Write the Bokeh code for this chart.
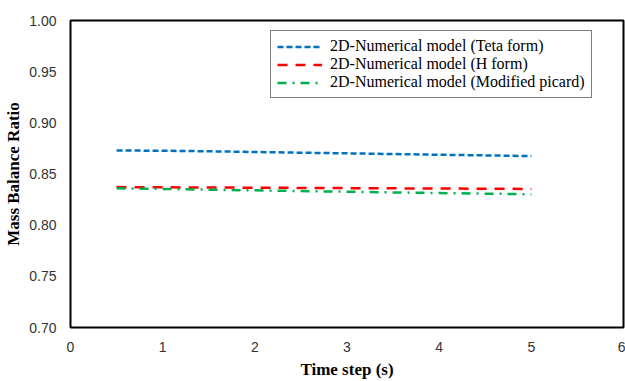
from bokeh.plotting import figure
from bokeh.models import Range1d, Legend, LegendItem, FixedTicker, CustomJSTickFormatter
from bokeh.embed import file_html
from bokeh.resources import INLINE

time_step = [0.5, 1.0, 1.5, 2.0, 2.5, 3.0, 3.5, 4.0, 4.5, 5.0]
teta_form = [0.873, 0.8727, 0.8722, 0.8715, 0.8708, 0.8702, 0.8695, 0.8688, 0.8682, 0.8675]
h_form = [0.8372, 0.8370, 0.8368, 0.8366, 0.8364, 0.8362, 0.8360, 0.8358, 0.8356, 0.8354]
modified_picard = [0.8360, 0.8354, 0.8347, 0.8340, 0.8333, 0.8327, 0.8320, 0.8314, 0.8308, 0.8302]

x_ticks = [0, 1, 2, 3, 4, 5, 6]
y_ticks = [0.70, 0.75, 0.80, 0.85, 0.90, 0.95, 1.00]

p = figure(width=625, height=381, output_backend="svg", toolbar_location=None,
           x_range=Range1d(0, 6), y_range=Range1d(0.70, 1.00),
           min_border_left=70, min_border_right=2, min_border_top=20, min_border_bottom=53)

p.outline_line_color = "black"
p.outline_line_width = 2
p.xgrid.visible = False
p.ygrid.visible = False

r1 = p.line(time_step, teta_form, line_color="#0070C0", line_width=2.5, line_dash="6 3")
r2 = p.line(time_step, h_form, line_color="#FF0000", line_width=2.5, line_dash="10 8")
r3 = p.line(time_step, modified_picard, line_color="#00B050", line_width=2.5, line_dash="9 6 2 6")

for ax in (p.xaxis[0], p.yaxis[0]):
    ax.axis_line_color = None
    ax.major_tick_line_color = None
    ax.minor_tick_line_color = None
    ax.major_tick_out = 0
    ax.major_tick_in = 0
    ax.minor_tick_out = 0
    ax.minor_tick_in = 0
    ax.major_label_text_font = "Liberation Sans"
    ax.major_label_text_font_size = "14px"
    ax.major_label_text_color = "#333333"
    ax.axis_label_text_font = "Liberation Serif"
    ax.axis_label_text_font_style = "bold"
    ax.axis_label_text_font_size = "17px"
    ax.axis_label_text_color = "black"

p.xaxis.ticker = FixedTicker(ticks=x_ticks)
p.yaxis.ticker = FixedTicker(ticks=y_ticks)
p.yaxis.formatter = CustomJSTickFormatter(code="return tick.toFixed(2);")
p.xaxis.axis_label = "Time step (s)"
p.yaxis.axis_label = "Mass Balance Ratio"
p.xaxis.major_label_standoff = 14
p.xaxis.axis_label_standoff = 5
p.yaxis.major_label_standoff = 14
p.yaxis.axis_label_standoff = 3

legend = Legend(items=[
    LegendItem(label="2D-Numerical model (Teta form)", renderers=[r1]),
    LegendItem(label="2D-Numerical model (H form)", renderers=[r2]),
    LegendItem(label="2D-Numerical model (Modified picard)", renderers=[r3]),
], location=(200, 229))
legend.label_text_font = "Liberation Serif"
legend.label_text_font_size = "16px"
legend.label_text_color = "black"
legend.border_line_color = "black"
legend.border_line_width = 1
legend.background_fill_alpha = 1
legend.glyph_width = 45
legend.glyph_height = 17
legend.label_height = 17
legend.spacing = 0
legend.padding = 6
legend.margin = 0
legend.label_standoff = 8
p.add_layout(legend)

open("out.html", "w").write(file_html(p, INLINE))
